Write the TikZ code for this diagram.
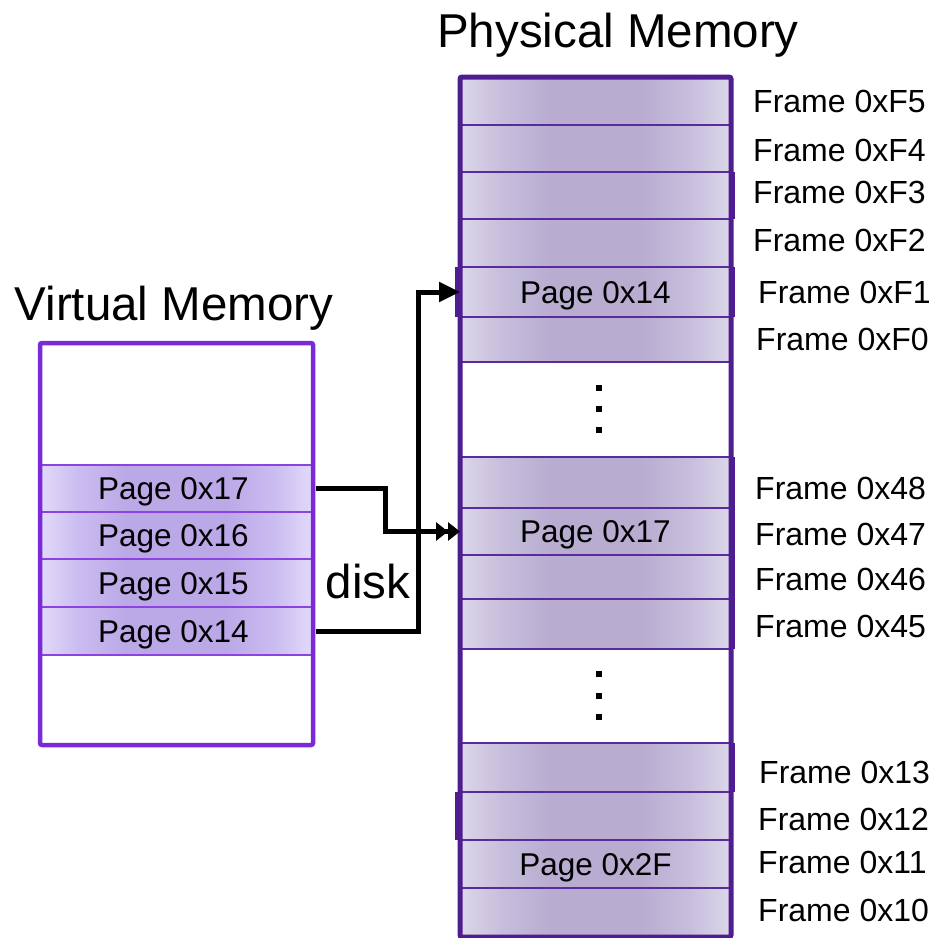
\documentclass[tikz,border=0pt]{standalone}
\usepackage{fontspec}
\setmainfont{Liberation Sans}
\usetikzlibrary{arrows.meta}
\definecolor{pmEdge}{HTML}{DCD7E9}
\definecolor{pmQ}{HTML}{C6BDDC}
\definecolor{pmMid}{HTML}{B8ACD0}
\definecolor{pmLine}{HTML}{5A2B9C}
\definecolor{pmThick}{HTML}{4E1D8F}
\definecolor{vmEdge}{HTML}{E3DAFA}
\definecolor{vmQ}{HTML}{CBBCF0}
\definecolor{vmMid}{HTML}{BBA8E7}
\definecolor{vmLine}{HTML}{7B2AD8}
\definecolor{vmThin}{HTML}{8A45E0}
\pgfdeclarehorizontalshading{pmshade}{100bp}{color(0bp)=(pmEdge); color(25bp)=(pmEdge); color(33bp)=(pmQ); color(42bp)=(pmMid); color(58bp)=(pmMid); color(67bp)=(pmQ); color(75bp)=(pmEdge); color(100bp)=(pmEdge)}
\pgfdeclarehorizontalshading{vmshade}{100bp}{color(0bp)=(vmEdge); color(25bp)=(vmEdge); color(32bp)=(vmQ); color(41bp)=(vmMid); color(59bp)=(vmMid); color(68bp)=(vmQ); color(75bp)=(vmEdge); color(100bp)=(vmEdge)}
\begin{document}
\begin{tikzpicture}[x=1pt,y=-1pt,
  pmrow/.style={draw=pmLine, line width=1.5pt, shade, shading=pmshade,
    minimum width=271pt, minimum height=#1, inner sep=0pt, outer sep=0pt, anchor=north,
    text height=22pt, text depth=0pt, font=\fontsize{31.5}{36}\selectfont},
  vmrow/.style={draw=vmThin, line width=1.5pt, shade, shading=vmshade,
    minimum width=273pt, minimum height=#1, inner sep=0pt, outer sep=0pt, anchor=north,
    text height=22pt, text depth=0pt, font=\fontsize{31.5}{36}\selectfont},
  flabel/.style={anchor=west, inner sep=0pt, text height=23pt, text depth=0pt, font=\fontsize{32}{38}\selectfont},
  title/.style={anchor=base, inner sep=0pt, font=\fontsize{47.5}{56}\selectfont},
  conn/.style={draw=black, line width=5pt, line join=miter},
  side/.style={draw=pmThick, line width=4pt},
  dot/.style={fill=black}
]
\useasboundingbox (0,0) rectangle (932,938);
\fill[white] (0,0) rectangle (932,938);

% titles
\node[title] (tpm) at (618,47) {Physical Memory};
\node[title] (tvm) at (174,320) {Virtual Memory};
\node[title] (disk) at (368,598) {disk};

% physical memory rows
\node[pmrow=48pt] (pF5) at (595.5,77) {};
\node[pmrow=47pt] (pF4) at (595.5,125) {};
\node[pmrow=47pt] (pF3) at (595.5,172) {};
\node[pmrow=48pt] (pF2) at (595.5,219) {};
\node[pmrow=50pt] (pF1) at (595.5,267) {Page 0x14};
\node[pmrow=45pt] (pF0) at (595.5,317) {};
\node[pmrow=51pt] (p48) at (595.5,457) {};
\node[pmrow=47pt] (p47) at (595.5,508) {Page 0x17};
\node[pmrow=44pt] (p46) at (595.5,555) {};
\node[pmrow=50pt] (p45) at (595.5,599) {};
\node[pmrow=49pt] (p13) at (595.5,743) {};
\node[pmrow=48pt] (p12) at (595.5,792) {};
\node[pmrow=48pt] (p11) at (595.5,840) {Page 0x2F};
\node[pmrow=49pt] (p10) at (595.5,888) {};

% column outline
\draw[pmThick, line width=5pt, rounded corners=2pt] (460,77) rectangle (731,937);
% slight protrusions of some rows
\draw[side] (733,172) -- (733,219);
\draw[side] (457,267) -- (457,317);
\draw[side] (733,267) -- (733,317);
\draw[side] (733,457) -- (733,649);
\draw[side] (733,743) -- (733,792);
\draw[side] (457,792) -- (457,840);

% dots
\fill[dot] (596,385) rectangle (602,391);
\fill[dot] (596,406) rectangle (602,412);
\fill[dot] (596,427) rectangle (602,433);
\fill[dot] (596,671) rectangle (602,677);
\fill[dot] (596,693) rectangle (602,699);
\fill[dot] (596,714) rectangle (602,720);

% frame labels
\node[flabel] (fF5) at (753,101) {Frame 0xF5};
\node[flabel] (fF4) at (753,150) {Frame 0xF4};
\node[flabel] (fF3) at (753,192) {Frame 0xF3};
\node[flabel] (fF2) at (753,240) {Frame 0xF2};
\node[flabel] (fF1) at (758,292) {Frame 0xF1};
\node[flabel] (fF0) at (756,339) {Frame 0xF0};
\node[flabel] (f48) at (755,488) {Frame 0x48};
\node[flabel] (f47) at (755,534) {Frame 0x47};
\node[flabel] (f46) at (755,579) {Frame 0x46};
\node[flabel] (f45) at (755,626) {Frame 0x45};
\node[flabel] (f13) at (759,772) {Frame 0x13};
\node[flabel] (f12) at (758,819) {Frame 0x12};
\node[flabel] (f11) at (758,862) {Frame 0x11};
\node[flabel] (f10) at (758,910) {Frame 0x10};

% virtual memory
\fill[white] (40,343) rectangle (313,745);
\node[vmrow=47pt] (v17) at (176.5,465) {\hspace*{-6pt}Page 0x17};
\node[vmrow=47pt] (v16) at (176.5,512) {\hspace*{-6pt}Page 0x16};
\node[vmrow=48pt] (v15) at (176.5,559) {\hspace*{-6pt}Page 0x15};
\node[vmrow=48pt] (v14) at (176.5,607) {\hspace*{-6pt}Page 0x14};
\draw[vmLine, line width=4.5pt, rounded corners=2pt] (40,343) rectangle (313,745);

% connectors
\coordinate (k1) at (385,0);
\coordinate (k2) at (418,0);
\draw[conn, -{Triangle[length=12pt,width=18pt]Triangle[length=12pt,width=18pt]}]
  ([xshift=3pt]v17.east) -- (v17.east -| k1) |- (p47.west);
\draw[conn, -{Triangle[length=21pt,width=19pt]}]
  ([xshift=3pt]v14.east) -- (v14.east -| k2) |- (pF1.west);
\end{tikzpicture}
\end{document}
